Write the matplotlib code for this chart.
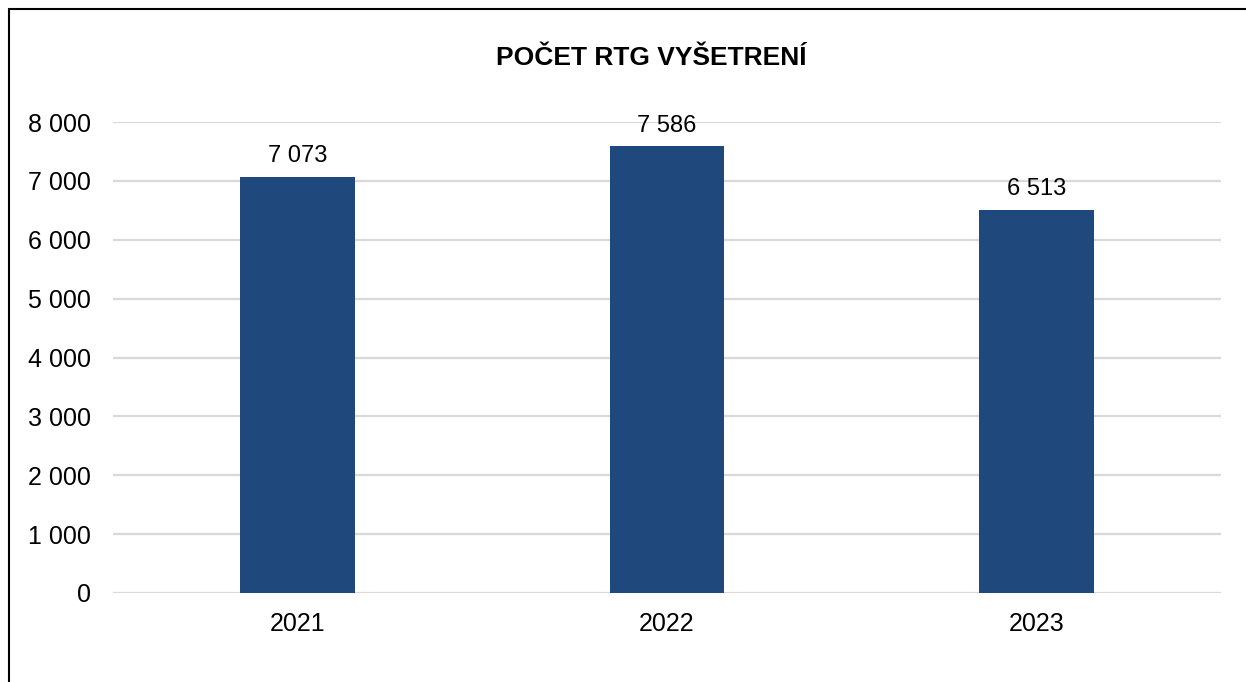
import matplotlib
matplotlib.use("Agg")
import matplotlib.pyplot as plt
from matplotlib.patches import Rectangle
from matplotlib.ticker import FuncFormatter

years = ["2021", "2022", "2023"]
counts = [7073, 7586, 6513]
title = "POČET RTG VYŠETRENÍ"

plt.rcParams["font.family"] = ["Liberation Sans", "DejaVu Sans"]

W, H = 1246, 682
fig = plt.figure(figsize=(W / 100, H / 100), dpi=100)
ax = fig.add_axes([113 / W, 1 - 593 / H, (1221 - 113) / W, (593 - 122) / H])

def space_fmt(v, pos=None):
    return f"{int(v):,}".replace(",", " ")

x = range(len(years))
ax.bar(x, counts, width=0.31, color="#1F497D", zorder=3)
for xi, v in zip(x, counts):
    ax.annotate(space_fmt(v), (xi, v), xytext=(0, 7), textcoords="offset points",
                ha="center", va="bottom", fontsize=17, color="#000000")

ax.set_xlim(-0.5, 2.5)
ax.set_ylim(0, 8000)
ax.set_yticks(range(0, 8001, 1000))
ax.yaxis.set_major_formatter(FuncFormatter(space_fmt))
ax.set_xticks(list(x))
ax.set_xticklabels(years)
ax.tick_params(axis="both", length=0, labelsize=18, colors="#000000")
ax.tick_params(axis="y", pad=16)
ax.tick_params(axis="x", pad=14)
ax.grid(axis="y", color="#D9D9D9", linewidth=1.6, zorder=0)
for s in ax.spines.values():
    s.set_visible(False)

fig.text(651 / W, 1 - 58 / H, title, ha="center", va="center",
         fontsize=19, fontweight="bold")

fig.patches.append(Rectangle((8.5 / W, -0.1), 1.2, 1 - 8.5 / H + 0.1,
                             transform=fig.transFigure, fill=False,
                             edgecolor="#000000", linewidth=1.5))

fig.savefig("out.png", dpi=100)
